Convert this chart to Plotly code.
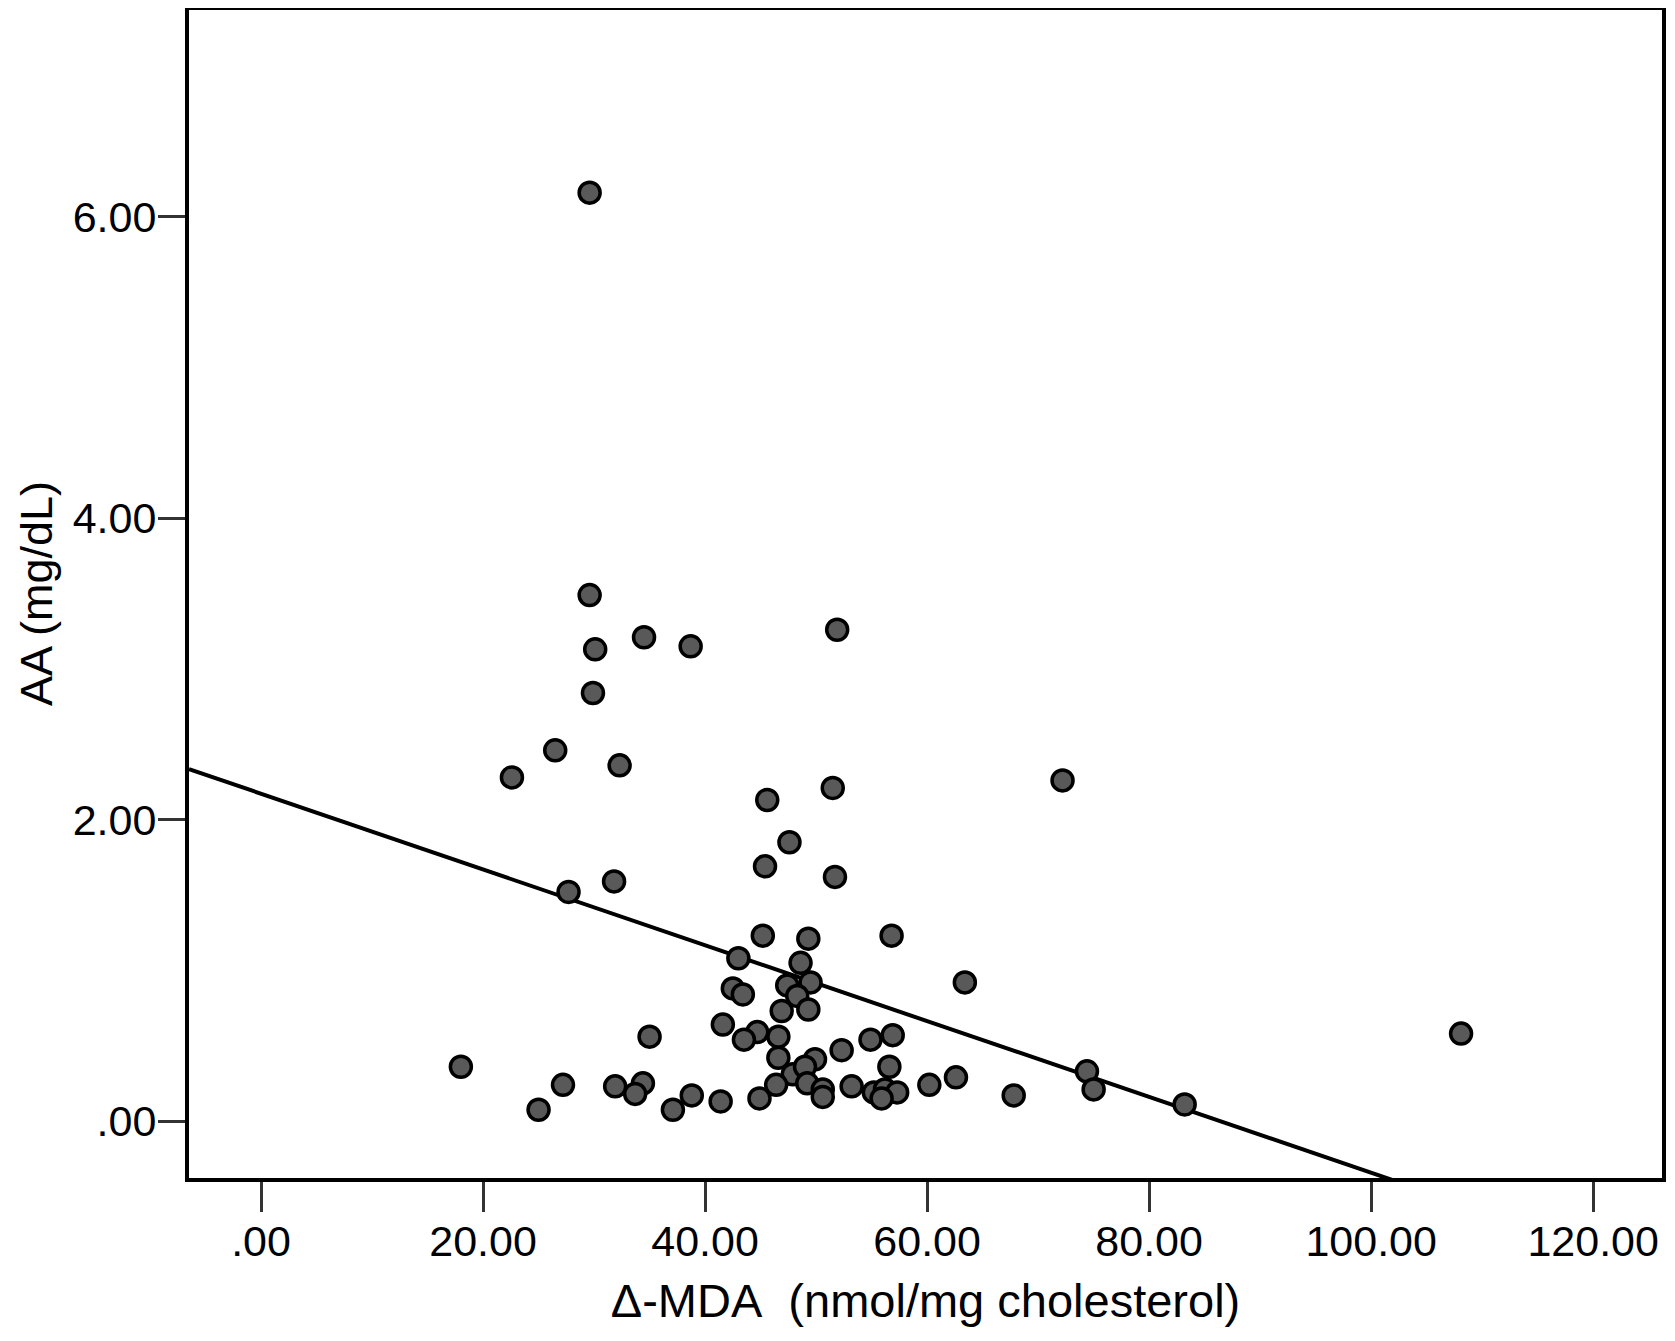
import plotly.graph_objects as go

# Δ-MDA (nmol/mg cholesterol)
mda = [29.6, 29.6, 34.5, 38.7, 30.1, 51.9, 29.9, 26.5, 22.6, 32.3,
       72.2, 45.6, 51.5, 47.6, 45.4, 51.7, 27.7, 31.8, 45.2, 49.3,
       56.8, 43.0, 48.6, 63.4, 47.4, 49.5, 42.5, 43.4, 48.3, 46.9,
       49.3, 41.6, 35.0, 44.7, 43.5, 46.6, 54.9, 56.9, 52.3, 46.6,
       49.9, 56.6, 18.0, 47.9, 49.0, 74.4, 46.4, 49.2, 50.6, 50.6,
       53.2, 55.2, 56.2, 57.3, 55.9, 60.2, 62.6, 67.8, 75.0, 83.2,
       44.9, 38.8, 41.4, 37.1, 25.0, 27.2, 31.9, 34.4, 33.7, 108.1]
# AA (mg/dL)
aa = [6.16, 3.49, 3.21, 3.15, 3.13, 3.26, 2.84, 2.46, 2.28, 2.36,
      2.26, 2.13, 2.21, 1.85, 1.69, 1.62, 1.52, 1.59, 1.23, 1.21,
      1.23, 1.08, 1.05, 0.92, 0.90, 0.92, 0.88, 0.84, 0.83, 0.73,
      0.74, 0.64, 0.56, 0.59, 0.54, 0.56, 0.54, 0.57, 0.47, 0.42,
      0.41, 0.36, 0.36, 0.31, 0.36, 0.33, 0.24, 0.25, 0.21, 0.16,
      0.23, 0.19, 0.21, 0.19, 0.15, 0.24, 0.29, 0.17, 0.21, 0.11,
      0.15, 0.17, 0.13, 0.075, 0.075, 0.24, 0.23, 0.25, 0.18, 0.58]

# fitted line
fit_intercept = 2.172
fit_slope = -0.02515

x_tickvals = [0, 20, 40, 60, 80, 100, 120]
x_ticktext = [".00", "20.00", "40.00", "60.00", "80.00", "100.00", "120.00"]
y_tickvals = [0, 2, 4, 6]
y_ticktext = [".00", "2.00", "4.00", "6.00"]

x_range = [-6.49, 126.2]
y_range = [-0.378, 7.372]

fig = go.Figure()
line_x = [x_range[0], x_range[1]]
line_y = [fit_intercept + fit_slope * v for v in line_x]
fig.add_trace(go.Scatter(x=line_x, y=line_y, mode="lines",
                         line=dict(color="black", width=4), showlegend=False,
                         hoverinfo="skip"))
fig.add_trace(go.Scatter(x=mda, y=aa, mode="markers",
                         marker=dict(size=21, color="#595959",
                                     line=dict(color="black", width=3.5)),
                         showlegend=False, cliponaxis=False))

font = "Liberation Sans, Arial, sans-serif"
# page body has an 8px default margin, so the figure is sized to fit the window
W, H = 1667, 1333
L, R, T, B = 181, 13, 2, 163
plot_w = W - L - R

fig.update_layout(
    width=W, height=H,
    margin=dict(l=L, r=R, t=T, b=B),
    paper_bgcolor="white", plot_bgcolor="white",
    font=dict(family=font, color="black"),
    xaxis=dict(range=x_range, tickvals=x_tickvals, ticktext=x_ticktext,
               showgrid=False, zeroline=False, showline=True, mirror=True,
               linecolor="black", linewidth=4, ticks="outside", ticklen=30,
               tickwidth=3, tickcolor="#333333", automargin=False,
               ticklabelstandoff=-8,
               tickfont=dict(size=43, family=font, color="black"),
               title=dict(text="Δ-MDA\u00a0\u00a0(nmol/mg cholesterol)",
                          font=dict(size=47, family=font, color="black"),
                          standoff=22)),
    yaxis=dict(range=y_range, tickvals=y_tickvals, ticktext=y_ticktext,
               showgrid=False, zeroline=False, showline=True, mirror=True,
               linecolor="black", linewidth=4, ticks="outside", ticklen=27,
               tickwidth=3, tickcolor="#333333", automargin=False,
               ticklabelstandoff=-7,
               tickfont=dict(size=43, family=font, color="black")),
    annotations=[dict(text="AA (mg/dL)", xref="paper", yref="paper",
                      x=(28 - L) / plot_w, y=0.5, xanchor="center",
                      yanchor="middle", textangle=-90, showarrow=False,
                      borderpad=0,
                      font=dict(size=45, family=font, color="black"))],
)
fig.write_html("out.html")
